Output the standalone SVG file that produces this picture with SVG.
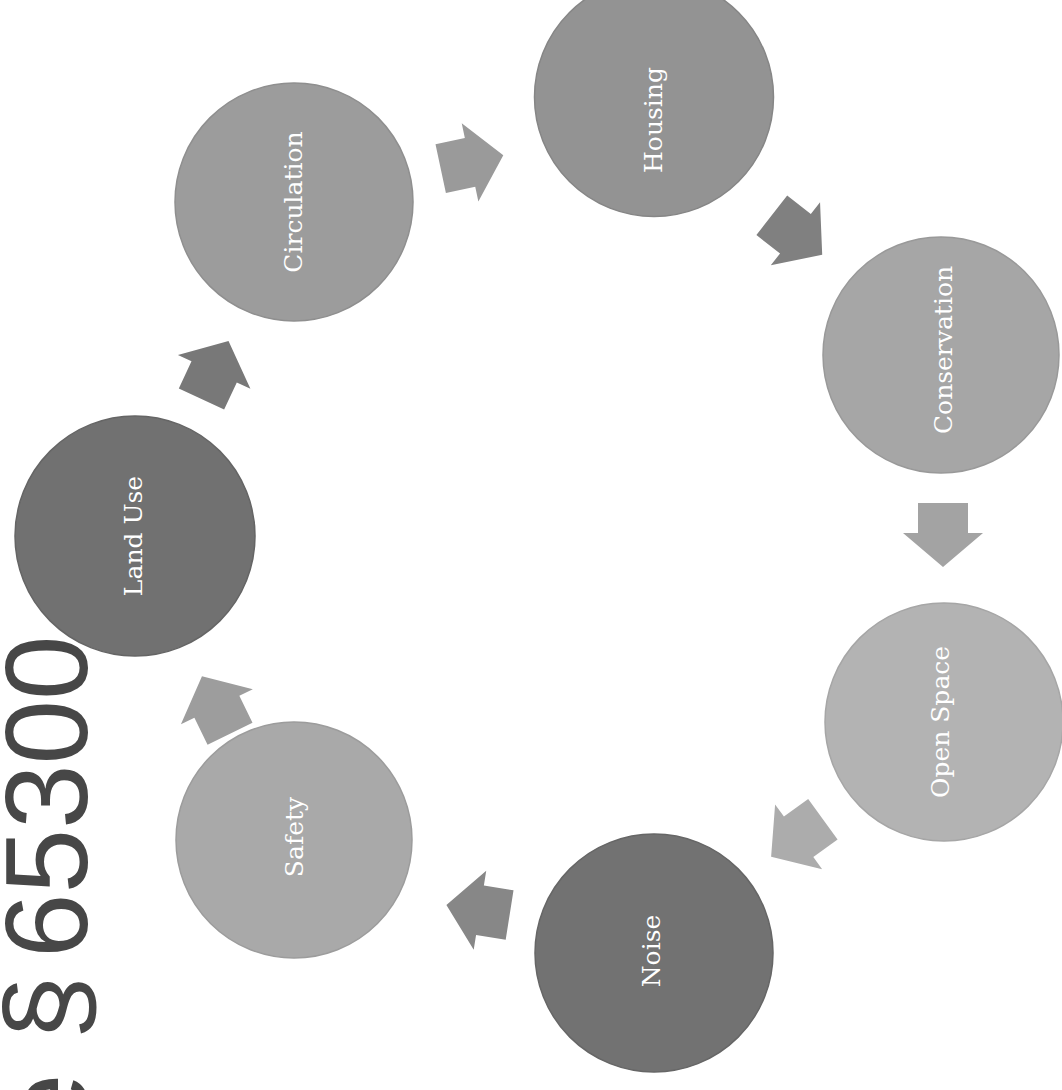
<svg xmlns="http://www.w3.org/2000/svg" width="1062" height="1090" viewBox="0 0 1062 1090">
<style>
.node circle{stroke-width:1.5}
.lbl{font-family:"DejaVu Serif","Liberation Serif",serif;font-size:25px;fill:#ffffff;text-anchor:middle}
.big{font-family:"Liberation Sans",Arial,sans-serif;font-size:116px;fill:#474747}
</style>
<defs>
<path id="arr" d="M-32,-25 L-2,-25 L-2,-40 L32,0 L-2,40 L-2,25 L-32,25 Z"/>
</defs>
<rect width="1062" height="1090" fill="#ffffff"/>
<text class="big" transform="rotate(-90)" y="87"><tspan x="-1138">e </tspan><tspan x="-1040">§ </tspan><tspan x="-958">65300</tspan></text>
<g id="connectors">
<use href="#arr" fill="#9a9a9a" transform="translate(472,162) rotate(-12)"/>
<use href="#arr" fill="#808080" transform="translate(797,235) rotate(38)"/>
<use href="#arr" fill="#a3a3a3" transform="translate(943,535) rotate(90)"/>
<use href="#arr" fill="#acacac" transform="translate(797,838) rotate(144)"/>
<use href="#arr" fill="#878787" transform="translate(478,910) rotate(189)"/>
<use href="#arr" fill="#9d9d9d" transform="translate(216,705) rotate(244)"/>
<use href="#arr" fill="#787878" transform="translate(215,370) rotate(-65)"/>
</g>
<g id="node-circulation" class="node">
<circle cx="294" cy="202" r="119" fill="#9c9c9c" stroke="#8f8f8f"/>
<text class="lbl" transform="translate(294,202) rotate(-90)" y="8">Circulation</text>
</g>
<g id="node-housing" class="node">
<circle cx="654" cy="97" r="119.5" fill="#939393" stroke="#868686"/>
<text class="lbl" transform="translate(654,120) rotate(-90)" y="8">Housing</text>
</g>
<g id="node-conservation" class="node">
<circle cx="941" cy="355" r="118" fill="#a6a6a6" stroke="#999999"/>
<text class="lbl" transform="translate(944,350) rotate(-90)" y="8">Conservation</text>
</g>
<g id="node-openspace" class="node">
<circle cx="944" cy="722" r="119" fill="#b3b3b3" stroke="#a6a6a6"/>
<text class="lbl" transform="translate(941,722) rotate(-90)" y="8">Open Space</text>
</g>
<g id="node-noise" class="node">
<circle cx="654" cy="953" r="119" fill="#727272" stroke="#666666"/>
<text class="lbl" transform="translate(652,951) rotate(-90)" y="8">Noise</text>
</g>
<g id="node-safety" class="node">
<circle cx="294" cy="840" r="118" fill="#a9a9a9" stroke="#9c9c9c"/>
<text class="lbl" transform="translate(295,837) rotate(-90)" y="8">Safety</text>
</g>
<g id="node-landuse" class="node">
<circle cx="135" cy="536" r="120" fill="#717171" stroke="#656565"/>
<text class="lbl" transform="translate(134,536) rotate(-90)" y="8">Land Use</text>
</g>
</svg>
